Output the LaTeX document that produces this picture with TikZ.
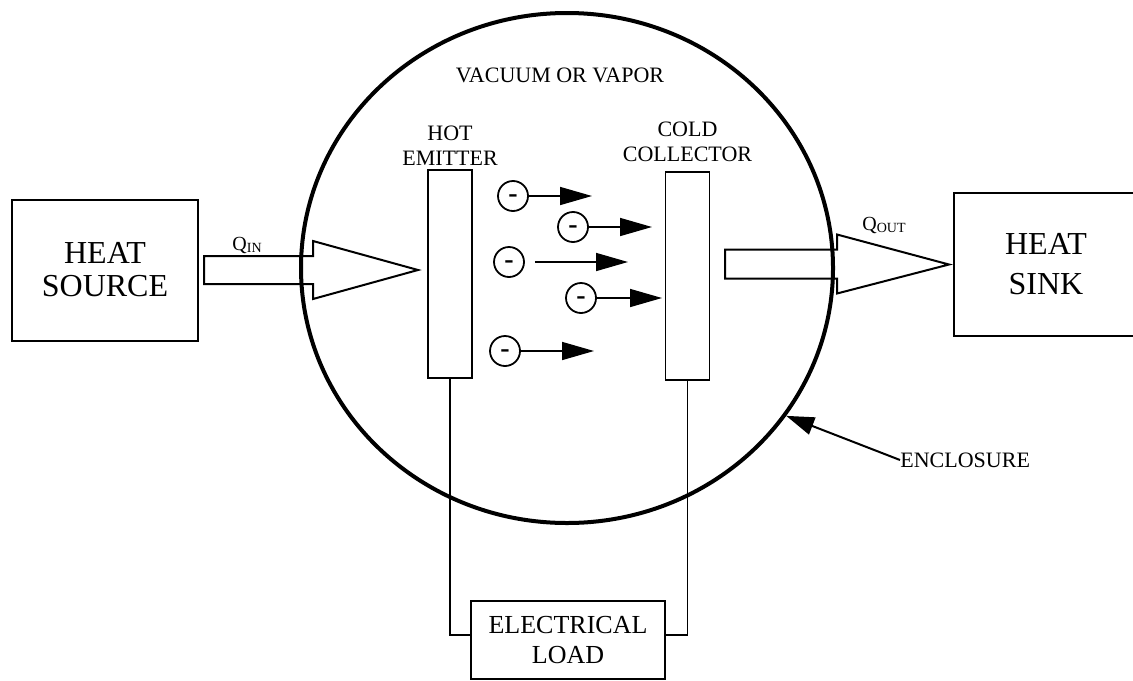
\documentclass[tikz,border=0pt]{standalone}
\usepackage{fontspec}
\setmainfont{Liberation Serif}
\usetikzlibrary{positioning, arrows.meta, shapes.geometric, calc}
\newcommand{\qsub}[2]{#1\raisebox{-1pt}{\fontsize{7}{7}\selectfont #2}}
\newcommand{\minus}{\raisebox{-3.2pt}[0pt][0pt]{-}}

\begin{document}
\begin{tikzpicture}[
    x=0.5pt, y=-0.5pt,
    box/.style={draw, line width=1pt, align=center, inner sep=0pt},
    plate/.style={draw, line width=0.8pt, minimum width=22pt, minimum height=104pt},
    elec/.style={draw, circle, line width=0.9pt, minimum size=15pt, inner sep=0pt, font=\fontsize{14}{14}\selectfont\bfseries},
    flow/.style={-{Triangle[length=16pt, width=9pt]}, line width=0.8pt},
    fat/.style={line width=1pt, line join=miter},
    wire/.style={line width=0.8pt},
    ptr/.style={-{Triangle[length=14pt, width=9pt]}, line width=1pt},
    lbl/.style={align=center, inner sep=0pt, font=\fontsize{11}{12.5}\selectfont},
    qlbl/.style={inner sep=0pt, font=\fontsize{10}{10}\selectfont}
]
\useasboundingbox (0,0) rectangle (1133,680);

% Source, sink and load
\node[box, minimum width=93pt, minimum height=70.5pt, font=\fontsize{16}{16.5}\selectfont] (src) at (105,270) {HEAT\\SOURCE};
\node[box, minimum width=92pt, minimum height=71.5pt, font=\fontsize{16}{20}\selectfont] (snk) at (1046,264.5) {HEAT\\SINK};
\node[box, minimum width=97pt, minimum height=39pt, font=\fontsize{13}{15}\selectfont] (load) at (568,640) {ELECTRICAL\\LOAD};

% Enclosure and plates
\node[draw, ellipse, line width=2pt, minimum width=266pt, minimum height=255pt] (encl) at (567,268) {};
\node[plate] (emit) at (450,274) {};
\node[plate] (coll) at (687.5,276) {};

\node[lbl, anchor=base] (vac) at (560,82) {VACUUM OR VAPOR};
\node[lbl, above=1.5pt of emit] (emitlbl) {HOT\\EMITTER};
\node[lbl, above=4.5pt of coll] (colllbl) {COLD\\COLLECTOR};

% Heat flows
\draw[fat] ($(src.east)+(5,-14)$) -- ++(109,0) -- ++(0,-15) -- ++(105,29)
    -- ++(-105,29) -- ++(0,-15) -- ++(-109,0) -- cycle;
\draw[fat] ($(snk.west)+(-4,0)$) -- ++(-112,-30) -- ++(0,15) -- ++(-112,0)
    -- ++(0,29) -- ++(112,0) -- ++(0,15) -- cycle;
\node[qlbl, anchor=base west] (qin) at (232,250) {\qsub{Q}{IN}};
\node[qlbl, anchor=base west] (qout) at (862,230) {\qsub{Q}{OUT}};

% Electrons
\node[elec] (e1) at (513,196) {\minus};
\node[elec] (e2) at (573,227) {\minus};
\node[elec] (e3) at (509,262) {\minus};
\node[elec] (e4) at (581,298) {\minus};
\node[elec] (e5) at (505,351) {\minus};
\coordinate (t1) at (592,196);
\coordinate (t2) at (652,227);
\coordinate (t3) at (628,262);
\coordinate (t4) at (662,298);
\coordinate (t5) at (594,351);
\draw[flow] (e1) -- (t1);
\draw[flow] (e2) -- (t2);
\draw[flow, shorten <=5pt] (e3) -- (t3);
\draw[flow] (e4) -- (t4);
\draw[flow] (e5) -- (t5);

% Circuit
\draw[wire] (emit.south) |- ([yshift=2.5pt]load.west);
\draw[wire] (coll.south) |- ([yshift=2.5pt]load.east);

% Enclosure pointer
\node[lbl, anchor=west] (enclbl) at (900,460) {ENCLOSURE};
\draw[ptr] (enclbl.west) -- (encl.-34);

\end{tikzpicture}
\end{document}
